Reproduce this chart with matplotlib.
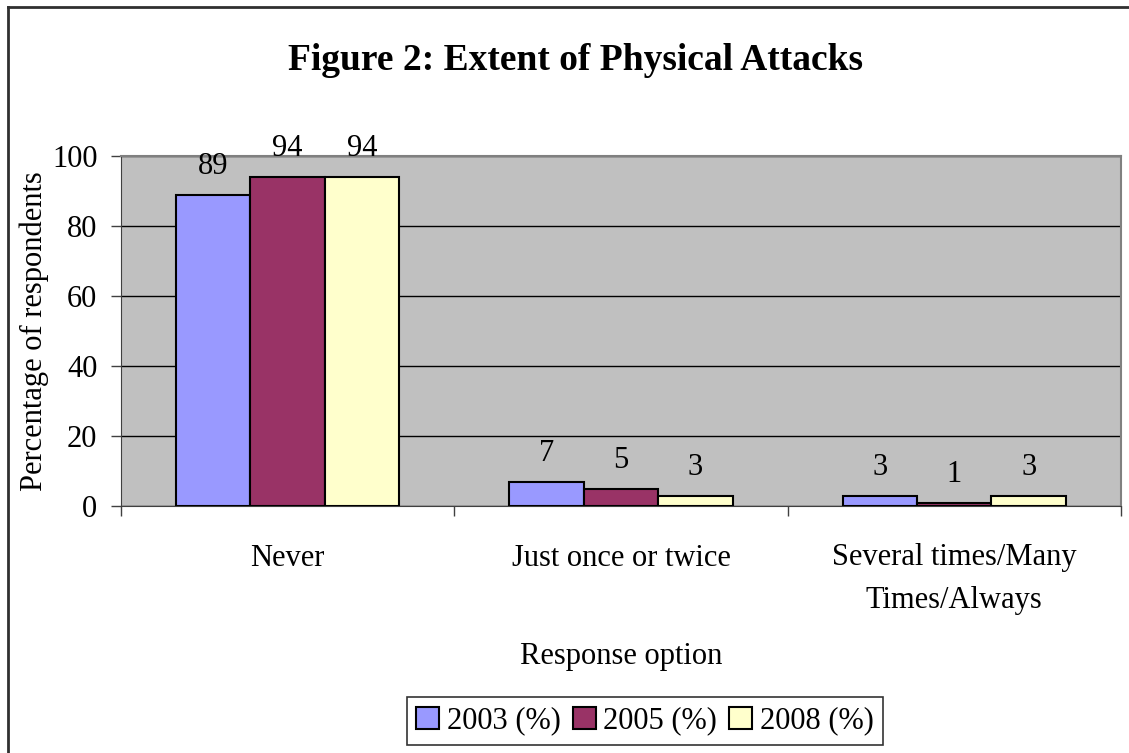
import numpy as np
import matplotlib.pyplot as plt

# data
categories = ['Never', 'Just once or twice', 'Several times/Many\nTimes/Always']
series_names = ['2003 (%)', '2005 (%)', '2008 (%)']
values_2003 = [89, 7, 3]
values_2005 = [94, 5, 1]
values_2008 = [94, 3, 3]
colors = ['#9999FF', '#993366', '#FFFFCC']

plt.rcParams['font.family'] = ['Liberation Serif', 'DejaVu Serif']
FS = 22

fig = plt.figure(figsize=(11.29, 7.53), dpi=100)
ax = fig.add_axes([121/1129, 1 - 506/753, 1000/1129, 350/753])

x = np.arange(len(categories))
width = 0.223
all_values = [values_2003, values_2005, values_2008]
for i, (vals, name, col) in enumerate(zip(all_values, series_names, colors)):
    bars = ax.bar(x + (i - 1) * width, vals, width, color=col, edgecolor='black',
                  linewidth=1.5, label=name, zorder=3)
    for b, v in zip(bars, vals):
        ax.annotate(str(v), (b.get_x() + b.get_width() / 2, v), xytext=(0, 10),
                    textcoords='offset points', ha='center', va='bottom', fontsize=FS)

ax.set_xlim(-0.5, 2.5)
ax.set_ylim(0, 100)
ax.set_facecolor('#C0C0C0')
ax.set_yticks(range(0, 101, 20))
ax.yaxis.grid(True, color='black', linewidth=1)
ax.set_axisbelow(True)

ax.set_xticks([-0.5, 0.5, 1.5, 2.5])
ax.set_xticklabels([])
ax.set_xticks(x, minor=True)
ax.set_xticklabels(categories, minor=True, fontsize=FS, linespacing=1.6)
ax.tick_params(axis='x', which='minor', length=0, pad=27)
ax.tick_params(axis='x', which='major', length=7, width=1, color='#404040')
ax.tick_params(axis='y', labelsize=FS, length=7, width=1, pad=10, color='#404040')

for side in ['top', 'right']:
    ax.spines[side].set_color('#808080')
    ax.spines[side].set_linewidth(1.5)
ax.spines['left'].set_color('#404040')
ax.spines['bottom'].set_color('#404040')

ax.set_ylabel('Percentage of respondents', fontsize=FS)
ax.yaxis.set_label_coords((49 - 121) / 1000, 0.5)
ax.set_xlabel('Response option', fontsize=FS, labelpad=20)

fig.text(575 / 1129, 1 - 60 / 753, 'Figure 2: Extent of Physical Attacks',
         ha='center', va='center', fontsize=27, fontweight='bold')

leg = ax.legend(loc='center', bbox_to_anchor=(645 / 1129, 1 - 721 / 753),
                bbox_transform=fig.transFigure, ncol=3, fontsize=FS, frameon=True,
                fancybox=False, edgecolor='black', handlelength=0.75, handleheight=0.75,
                handletextpad=0.25, columnspacing=0.4, borderpad=0.3)
leg.get_frame().set_linewidth(1.2)

# outer chart border (only left and top edges visible in reference)
fig.add_artist(plt.Line2D([8 / 1129, 8 / 1129], [0, 1 - 7 / 753], color='#303030',
                          linewidth=2, transform=fig.transFigure))
fig.add_artist(plt.Line2D([8 / 1129, 1], [1 - 7 / 753, 1 - 7 / 753], color='#303030',
                          linewidth=2, transform=fig.transFigure))

fig.savefig('out.png', dpi=100)
